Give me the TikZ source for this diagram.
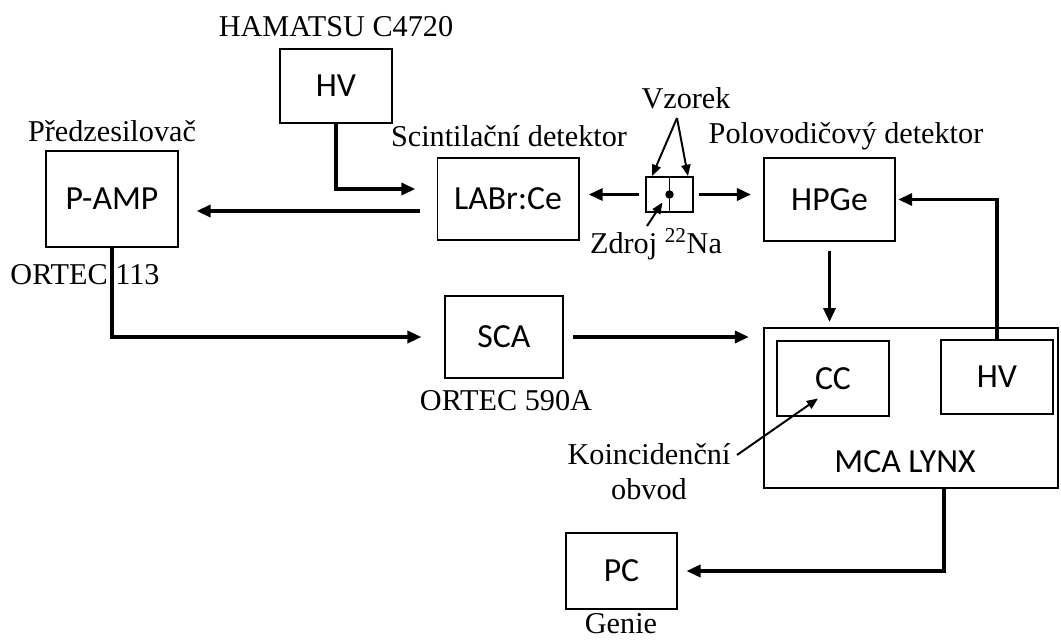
\documentclass[tikz,border=0pt]{standalone}
\usepackage{fontspec}
\setmainfont{Liberation Serif}
\newfontfamily\boxfont{Carlito}
\usetikzlibrary{arrows.meta, calc}

\begin{document}
\begin{tikzpicture}[
    x=0.025cm, y=-0.025cm,
    box/.style={
        rectangle,
        draw,
        line width=1.4pt,
        inner sep=0pt,
        font=\boxfont\fontsize{24}{28}\selectfont
    },
    lbl/.style={
        inner sep=0pt,
        align=center,
        font=\fontsize{21.5}{25}\selectfont
    },
    arr/.style={
        -{Triangle[length=10pt,width=8.5pt]},
        line width=2.6pt
    },
    thinarr/.style={
        -{Triangle[length=8pt,width=6.5pt]},
        line width=1.4pt
    }
]
\useasboundingbox (0,0) rectangle (1061,640);

\node[box, minimum width=2.8cm, minimum height=1.85cm] (hv) at (336,86) {HV};
\node[box, minimum width=3.3cm, minimum height=2.4cm] (pamp) at (112,199) {P-AMP};
\node[box, minimum width=3.525cm, minimum height=2.05cm] (labr) at (508,199) {LABr:Ce};
\node[box, minimum width=1.175cm, minimum height=0.875cm] (src) at (669.5,194.5) {};
\node[box, minimum width=3.275cm, minimum height=2.075cm] (hpge) at (829.5,199.5) {HPGe};
\node[box, minimum width=2.95cm, minimum height=2.05cm] (sca) at (504,337) {SCA};
\node[box, minimum width=7.35cm, minimum height=4cm] (mca) at (911,408) {};
\node[box, minimum width=2.8cm, minimum height=1.875cm] (cc) at (833,378.5) {CC};
\node[box, minimum width=2.8cm, minimum height=1.85cm] (hvm) at (997,377) {HV};
\node[box, minimum width=2.775cm, minimum height=1.9cm] (pc) at (621.5,571) {PC};

\node[lbl] (hamatsu) at (336,27) {HAMATSU C4720};
\node[lbl] (predz) at (112,131) {Předzesilovač};
\node[lbl] (ortec113) at (85,275) {ORTEC 113};
\node[lbl] (scint) at (509,136) {Scintilační detektor};
\node[lbl] (vzorek) at (686,98) {Vzorek};
\node[lbl] (polo) at (846,136) {Polovodičový detektor};
\node[lbl] (zdroj) at (656,244) {Zdroj \textsuperscript{22}Na};
\node[lbl] (ortec590) at (506,401) {ORTEC 590A};
\node[lbl] (koinc) at (649,472) {Koincidenční\\obvod};
\node[lbl, anchor=base] (genie) at (621,633) {Genie};
\node[box, draw=none] (mcalbl) at (905,462) {MCA LYNX};

\coordinate (vz) at (677,118);
\coordinate (zd) at (647,226);
\coordinate (ko) at (737,455);

\draw[arr, shorten >=15pt] (hv.south) |- ($(labr.west)+(0,-10)$);
\draw[arr, shorten <=12pt, shorten >=12.5pt] ($(labr.west)+(0,12)$) -- ($(pamp.east)+(0,12)$);
\draw[arr, shorten <=4pt, shorten >=6.5pt] (src.west) -- (src.west -| labr.east);
\draw[arr, shorten <=3.5pt, shorten >=8.5pt] (src.east) -- (src.east -| hpge.west);
\draw[line width=1.4pt] (src.north) -- (src.south);
\fill (src.center) circle (3pt);
\draw[thinarr] (vz) -- ($(src.north west)+(7,0)$);
\draw[thinarr] (vz) -- ($(src.north east)+(-6,0)$);
\draw[thinarr] (zd) -- ($(src.center)+(-7,8)$);
\draw[arr, shorten <=6.5pt, shorten >=3.5pt] (hpge.south) -- (hpge.south |- mca.north);
\draw[arr, shorten >=1.5pt] (hvm.north) |- (hpge.east);
\draw[arr, shorten >=16pt] (pamp.south) |- (sca.west);
\draw[arr, shorten <=6.5pt, shorten >=10pt] (sca.east) -- (sca.east -| mca.west);
\draw[thinarr] (ko) -- ($(cc.center)+(-15,20)$);
\draw[arr, shorten >=6pt] ($(mca.south west)+(181,0)$) |- (pc.east);

\end{tikzpicture}
\end{document}
